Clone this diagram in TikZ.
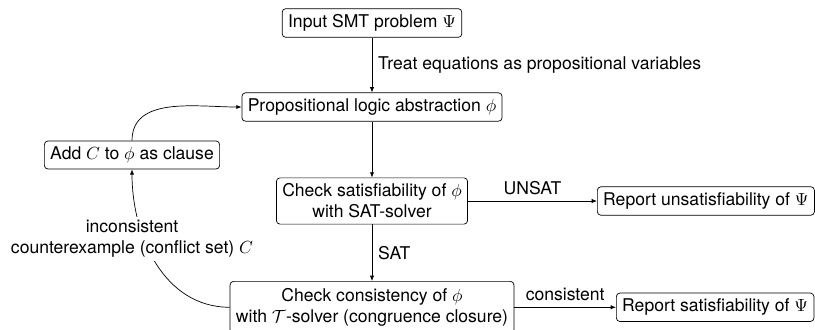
\documentclass[tikz,border=0pt]{standalone}
\usepackage{fontspec}
\setmainfont{TeX Gyre Heros}
\usetikzlibrary{arrows.meta}
\begin{document}
\begin{tikzpicture}[x=0.5692pt,y=-0.5692pt,
  box/.style={draw, rounded corners=2pt, inner sep=3.33pt, align=center},
  flow/.style={-{Latex[length=3pt,width=2.4pt]}, line width=0.4pt}]
\useasboundingbox (0,0) rectangle (815,329);
% process steps
\node[box] (input) at (372,23) {Input SMT problem $\Psi$};
\node[box] (prop) at (372,107) {Propositional logic abstraction $\phi$};
\node[box] (addc) at (132,155) {Add $C$ to $\phi$ as clause};
\node[box] (sat) at (372,201) {Check satisfiability of $\phi$\\ with SAT-solver};
\node[box, anchor=west] (unsat) at (597,201) {Report unsatisfiability of $\Psi$};
\node[box, anchor=north, minimum height=29.5pt] (cons) at (372,281)
  {Check consistency of $\phi$\\ with $\mathcal{T}$-solver (congruence closure)};
\node[box, anchor=west] (satrep) at (cons -| 616,0) {Report satisfiability of $\Psi$};
% main flow
\draw[flow] (input) -- node[right] {Treat equations as propositional variables} (prop);
\draw[flow] (prop) -- (sat);
\draw[flow] (sat) -- node[above] {UNSAT} (unsat);
\draw[flow] (sat) -- node[right] {SAT} (cons);
\draw[flow] (cons) -- node[above] {consistent} (satrep);
% refinement loop
\draw[flow] (addc.north) to[out=90,in=180] (prop.west);
\draw[flow] (cons.west) to[out=180,in=-90] (addc.south);
\node[fill=white, align=center, inner sep=2pt] (conflict) at (132,239)
  {inconsistent\\ counterexample (conflict set) $C$};
\end{tikzpicture}
\end{document}
